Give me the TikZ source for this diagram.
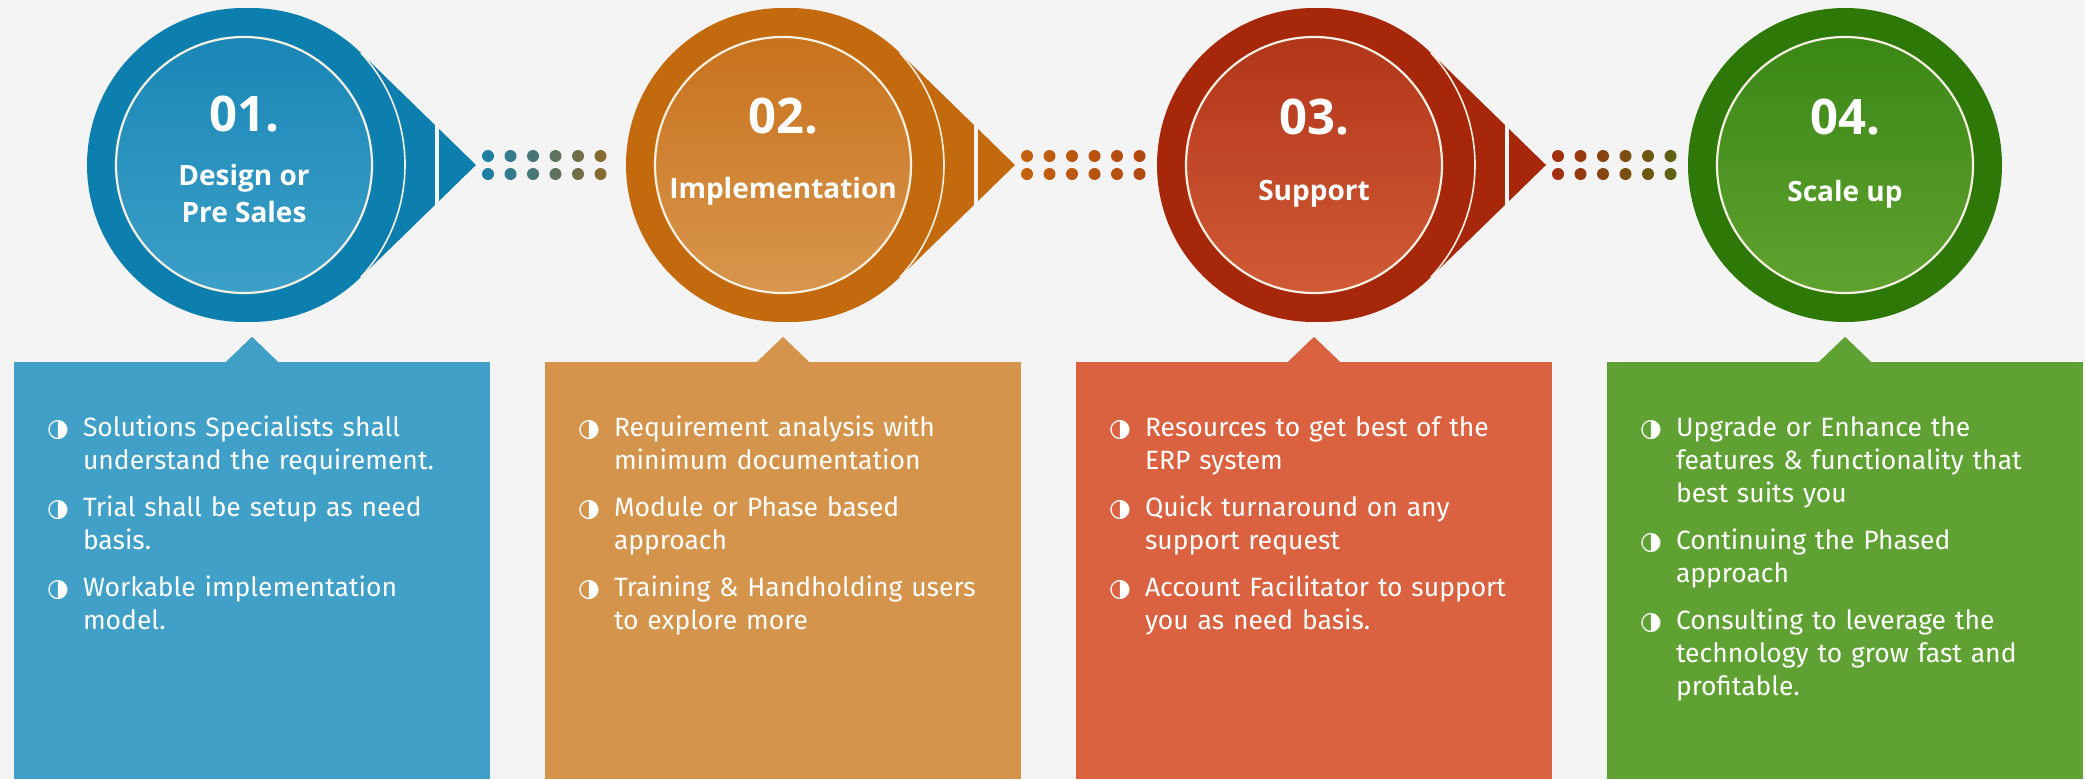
\documentclass[tikz,border=0pt]{standalone}
\usepackage{fontspec}
\setmainfont{Fira Sans}
\newfontfamily\headfont{Open Sans}
\newfontfamily\iconfont{DejaVu Sans}
\usetikzlibrary{positioning}

\definecolor{pagebg}{HTML}{F4F4F4}
\definecolor{rimline}{HTML}{F6F0E2}
\definecolor{blueRing}{HTML}{0C7FAF}
\definecolor{blueTop}{HTML}{1A86B6}
\definecolor{blueBot}{HTML}{3CA0C8}
\definecolor{blueBox}{HTML}{40A0C7}
\definecolor{orangeRing}{HTML}{C46A0E}
\definecolor{orangeTop}{HTML}{C8721C}
\definecolor{orangeBot}{HTML}{D8964E}
\definecolor{orangeBox}{HTML}{D4944C}
\definecolor{redRing}{HTML}{A62709}
\definecolor{redTop}{HTML}{B2361A}
\definecolor{redBot}{HTML}{D05A36}
\definecolor{redBox}{HTML}{DA6240}
\definecolor{greenRing}{HTML}{2E7808}
\definecolor{greenTop}{HTML}{3A8716}
\definecolor{greenBot}{HTML}{60A22F}
\definecolor{greenBox}{HTML}{5FA233}
\definecolor{dotA}{HTML}{1A80A8}
\definecolor{dotB}{HTML}{8C6A2A}
\definecolor{dotC}{HTML}{C4620E}
\definecolor{dotD}{HTML}{B24812}
\definecolor{dotE}{HTML}{A52E0E}
\definecolor{dotF}{HTML}{5C6412}

\newcommand{\stepmark}{\makebox[18pt][c]{\iconfont\fontsize{25}{25}\selectfont ◑}}
\newenvironment{steplist}{\begin{list}{\stepmark}{\setlength\leftmargin{34pt}%
  \setlength\labelwidth{18pt}\setlength\labelsep{16pt}\setlength\itemsep{14pt}%
  \setlength\parsep{0pt}\setlength\topsep{0pt}\setlength\partopsep{0pt}}}{\end{list}}

\begin{document}
\begin{tikzpicture}[x=1pt,y=1pt,node distance=531pt,on grid,
    stage/.style={circle,minimum size=314pt,inner sep=0pt,fill=#1},
    core/.style={circle,minimum size=256pt,inner sep=0pt,draw=rimline,line width=2.2pt},
    rim/.style={draw=rimline,line width=1.6pt},
    cut/.style={draw=pagebg,line width=3.5pt},
    panel/.style={rectangle,minimum width=476pt,minimum height=417pt,inner sep=0pt,fill=#1},
    num/.style={anchor=base,text=white,font=\headfont\fontsize{49}{49}\selectfont\bfseries},
    caption/.style={anchor=base,text=white,align=center,font=\headfont\fontsize{28}{37}\selectfont\bfseries},
    note/.style={anchor=base west,text=white,text width=430pt,align=left,inner sep=0pt,
      font=\fontsize{26.5}{33}\selectfont}]

    \fill[pagebg] (0,0) rectangle (2085,-779);
    \useasboundingbox (0,0) rectangle (2085,-779);

    \node[stage=orangeRing] (c_2) at (783,-165)     {};
    \node[stage=blueRing]   (c_1) [left=539pt of c_2] {};
    \node[stage=redRing]    (c_3) [right=of c_2]    {};
    \node[stage=greenRing]  (c_4) [right=of c_3]    {};

    \coordinate (s_1) at ([xshift=7]c_1.center);
    \coordinate (s_2) at ([xshift=7]c_2.center);
    \coordinate (s_3) at ([xshift=7]c_3.center);
    \coordinate (t_1) at ([xshift=232]c_1.center);
    \coordinate (t_2) at ([xshift=232]c_2.center);
    \coordinate (t_3) at ([xshift=232]c_3.center);

    \fill[blueRing] ([shift={(45.75:157)}]s_1) arc[start angle=45.75,end angle=314.25,radius=157] -- (t_1) -- cycle;
    \fill[orangeRing] ([shift={(45.75:157)}]s_2) arc[start angle=45.75,end angle=314.25,radius=157] -- (t_2) -- cycle;
    \fill[redRing] ([shift={(45.75:157)}]s_3) arc[start angle=45.75,end angle=314.25,radius=157] -- (t_3) -- cycle;

    \draw[rim] ([shift={(-3.5,0)}]c_1.center) ++(-43:164.5) arc[start angle=-43,end angle=43,radius=164.5];
    \draw[rim] ([shift={(-3.5,0)}]c_2.center) ++(-43:164.5) arc[start angle=-43,end angle=43,radius=164.5];
    \draw[rim] ([shift={(-3.5,0)}]c_3.center) ++(-43:164.5) arc[start angle=-43,end angle=43,radius=164.5];
    \draw[cut] ([shift={(193,46)}]c_1.center) -- ([shift={(193,-46)}]c_1.center);
    \draw[cut] ([shift={(193,46)}]c_2.center) -- ([shift={(193,-46)}]c_2.center);
    \draw[cut] ([shift={(193,46)}]c_3.center) -- ([shift={(193,-46)}]c_3.center);

    \node[core,top color=blueTop,bottom color=blueBot]     (k_1) at (c_1) {};
    \node[core,top color=orangeTop,bottom color=orangeBot] (k_2) at (c_2) {};
    \node[core,top color=redTop,bottom color=redBot]       (k_3) at (c_3) {};
    \node[core,top color=greenTop,bottom color=greenBot]   (k_4) at (c_4) {};

    \node[num] (n_1) at ([yshift=34]k_1) {01.};
    \node[num] (n_2) at ([yshift=32]k_2) {02.};
    \node[num] (n_3) at ([yshift=31]k_3) {03.};
    \node[num] (n_4) at ([yshift=31]k_4) {04.};
    \node[caption] (l_1) at ([yshift=-57]k_1) {Design or\\Pre Sales};
    \node[caption] (l_2) at ([yshift=-33]k_2) {Implementation};
    \node[caption] (l_3) at ([yshift=-35]k_3) {Support};
    \node[caption] (l_4) at ([yshift=-36]k_4) {Scale up};

    \shade[left color=dotA,right color=dotB] \foreach \k in {0,...,5} {
      ([shift={(12+22.5*\k,9)}]t_1) circle[radius=6] ([shift={(12+22.5*\k,-9)}]t_1) circle[radius=6]};
    \shade[left color=dotC,right color=dotD] \foreach \k in {0,...,5} {
      ([shift={(12+22.5*\k,9)}]t_2) circle[radius=6] ([shift={(12+22.5*\k,-9)}]t_2) circle[radius=6]};
    \shade[left color=dotE,right color=dotF] \foreach \k in {0,...,5} {
      ([shift={(12+22.5*\k,9)}]t_3) circle[radius=6] ([shift={(12+22.5*\k,-9)}]t_3) circle[radius=6]};

    \node[panel=orangeBox] (b_2) [below=405.5pt of c_2] {};
    \node[panel=blueBox]   (b_1) [left=of b_2]  {};
    \node[panel=redBox]    (b_3) [right=of b_2] {};
    \node[panel=greenBox]  (b_4) [right=of b_3] {};

    \fill[blueBox]   ([xshift=-26]b_1.north) -- ([yshift=25]b_1.north) -- ([xshift=26]b_1.north) -- cycle;
    \fill[orangeBox] ([xshift=-26]b_2.north) -- ([yshift=25]b_2.north) -- ([xshift=26]b_2.north) -- cycle;
    \fill[redBox]    ([xshift=-26]b_3.north) -- ([yshift=25]b_3.north) -- ([xshift=26]b_3.north) -- cycle;
    \fill[greenBox]  ([xshift=-26]b_4.north) -- ([yshift=25]b_4.north) -- ([xshift=26]b_4.north) -- cycle;

    \node[note] (d_1) at ([shift={(35,-42)}]b_1.north west) {\begin{steplist}
      \item Solutions Specialists shall\\understand the requirement.
      \item Trial shall be setup as need\\basis.
      \item Workable implementation\\model.
    \end{steplist}};
    \node[note] (d_2) at ([shift={(35,-42)}]b_2.north west) {\begin{steplist}
      \item Requirement analysis with\\minimum documentation
      \item Module or Phase based\\approach
      \item Training \& Handholding users\\to explore more
    \end{steplist}};
    \node[note] (d_3) at ([shift={(35,-42)}]b_3.north west) {\begin{steplist}
      \item Resources to get best of the\\ERP system
      \item Quick turnaround on any\\support request
      \item Account Facilitator to support\\you as need basis.
    \end{steplist}};
    \node[note] (d_4) at ([shift={(35,-42)}]b_4.north west) {\begin{steplist}
      \item Upgrade or Enhance the\\features \& functionality that\\best suits you
      \item Continuing the Phased\\approach
      \item Consulting to leverage the\\technology to grow fast and\\profitable.
    \end{steplist}};
\end{tikzpicture}
\end{document}
